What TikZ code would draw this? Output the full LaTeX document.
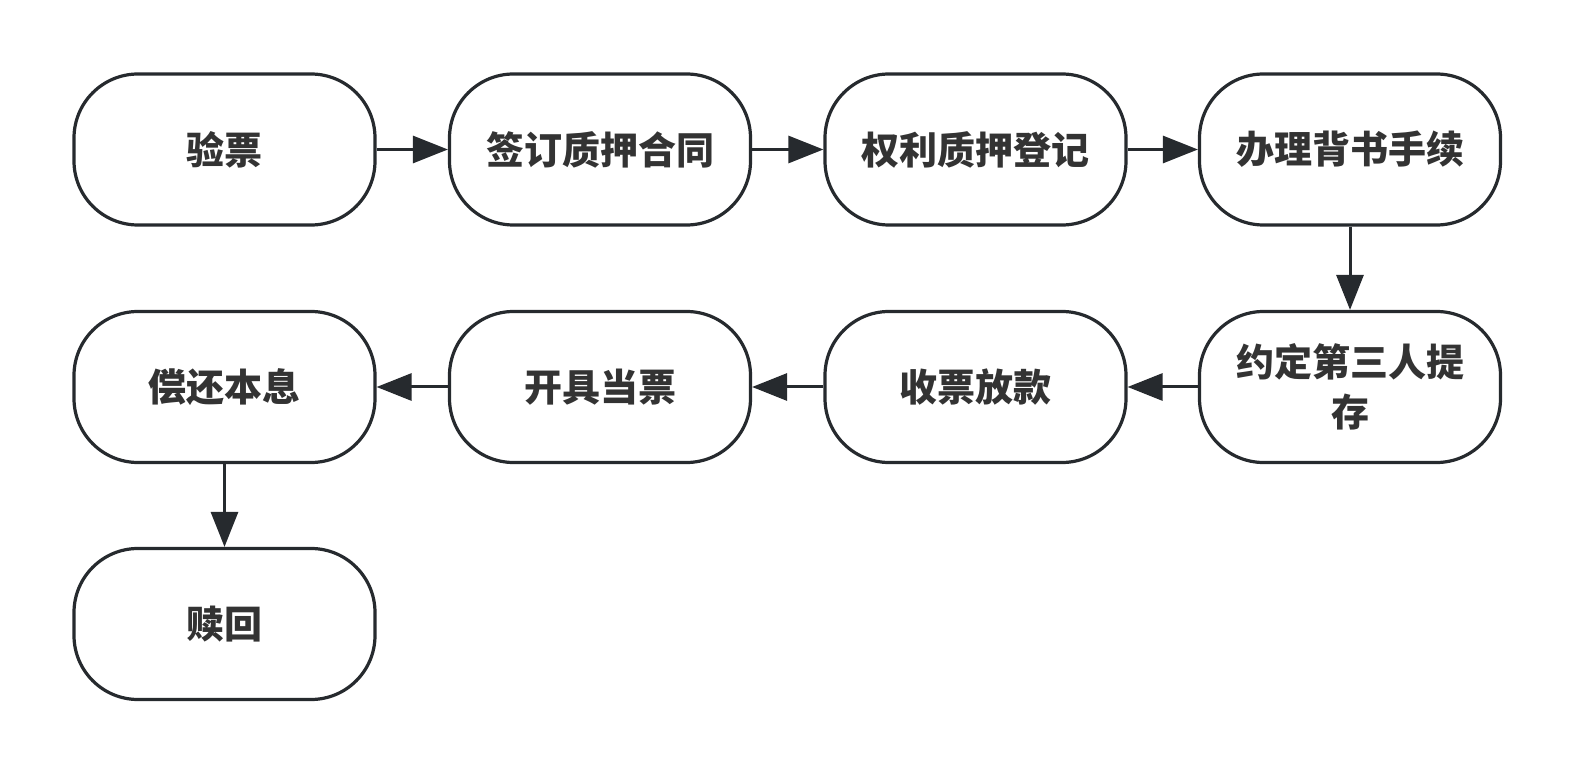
\documentclass[tikz,border=0pt]{standalone}
\usepackage{fontspec}
\newfontfamily\cjk{Noto Sans CJK SC}
\usetikzlibrary{arrows.meta}
\definecolor{edge}{HTML}{262A2E}
\definecolor{txt}{HTML}{333333}
\tikzset{
  stepbox/.style={draw=edge, line width=1.6pt, rounded corners=32pt, fill=white,
    minimum width=150.5pt, minimum height=75.5pt, inner sep=0pt,
    align=center, font=\cjk\bfseries\fontsize{19pt}{25pt}\selectfont, text=txt},
  flow/.style={draw=edge, line width=1.5pt, -{Triangle[length=17.5pt,width=13.5pt]}, color=edge}
}
\begin{document}
\begin{tikzpicture}[x=0.5pt,y=-0.5pt]
\useasboundingbox (0,0) rectangle (1575,774);
\node[stepbox] (a) at (224.5,149.5) {验票};
\node[stepbox] (b) at (600,149.5) {签订质押合同};
\node[stepbox] (c) at (975.5,149.5) {权利质押登记};
\node[stepbox] (d) at (1350,149.5) {办理背书手续};
\node[stepbox] (e) at (1350,387) {约定第三人提\\存};
\node[stepbox] (f) at (975.5,387) {收票放款};
\node[stepbox] (g) at (600,387) {开具当票};
\node[stepbox] (h) at (224.5,387) {偿还本息};
\node[stepbox] (i) at (224.5,624) {赎回};
\draw[flow] (a) -- (b);
\draw[flow] (b) -- (c);
\draw[flow] (c) -- (d);
\draw[flow] (d) -- (e);
\draw[flow] (e) -- (f);
\draw[flow] (f) -- (g);
\draw[flow] (g) -- (h);
\draw[flow] (h) -- (i);
\end{tikzpicture}
\end{document}
